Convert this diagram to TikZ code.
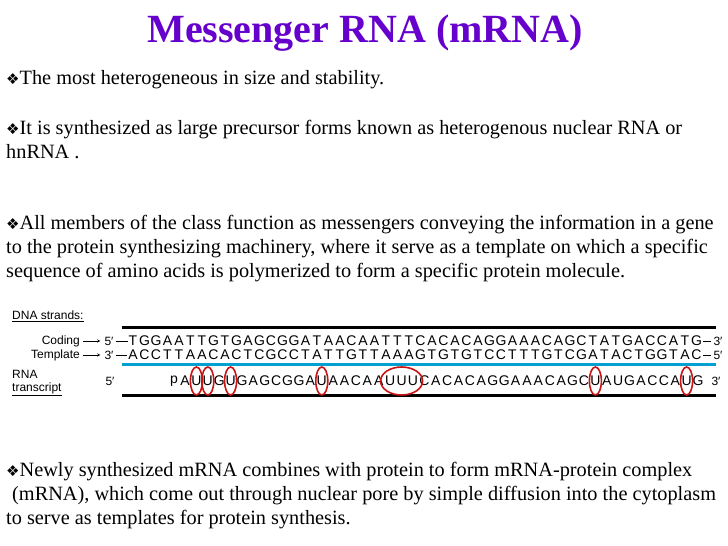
\documentclass[tikz,border=0pt]{standalone}
\usepackage{fontspec}
\setmainfont{Liberation Serif}
\newfontfamily\strandfont{Liberation Sans}
\newfontfamily\bulletfont{DejaVu Sans}
\usetikzlibrary{positioning}
\usetikzlibrary{shapes.geometric}
\definecolor{titlepurple}{RGB}{102,0,204}
\definecolor{templateblue}{RGB}{0,160,210}
\definecolor{ringred}{RGB}{200,20,20}
\newcommand{\bul}{{\bulletfont\fontsize{15}{15}\selectfont ❖}}
\tikzstyle{bodyline}=[anchor=base west, inner sep=0pt, font=\fontsize{20.3}{22}\selectfont]
\tikzstyle{base}=[inner sep=0pt, font=\strandfont\fontsize{14}{14}\selectfont]
\tikzstyle{small}=[inner sep=0pt, font=\strandfont\fontsize{12}{12}\selectfont]
\tikzstyle{bar}=[line width=3pt]
\tikzstyle{ring}=[draw=ringred, line width=1.6pt, ellipse]

\begin{document}
\begin{tikzpicture}[x=1pt, y=-1pt]
  \useasboundingbox[fill=white] (0,0) rectangle (728,546);

  % title
  \node[inner sep=0pt, text=titlepurple, font=\bfseries\fontsize{40}{44}\selectfont] (title) at (365,33) {Messenger RNA (mRNA)};

  % text above the figure
  \node[bodyline] (l1) at (6,84) {\bul The most heterogeneous in size and stability.};
  \node[bodyline] (l2) at (6,134) {\bul It is synthesized as large precursor forms known as heterogenous nuclear RNA or};
  \node[bodyline] (l3) at (6,158) {hnRNA .};
  \node[bodyline] (l4) at (6,229) {\bul All members of the class function as messengers conveying the information in a gene};
  \node[bodyline] (l5) at (6,253) {to the protein synthesizing machinery, where it serve as a template on which a specific};
  \node[bodyline] (l6) at (6,277) {sequence of amino acids is polymerized to form a specific protein molecule.};

  % strands
  \node[small, anchor=west] (dna) at (12,316) {\underline{DNA strands:}};
  \draw[bar] (122,327) -- (716,327);
  \draw[bar, templateblue] (122,364) -- (716,364);
  \draw[bar] (122,395) -- (716,395);

  \foreach \b [count=\i] in {T,G,G,A,A,T,T,G,T,G,A,G,C,G,G,A,T,A,A,C,A,A,T,T,T,C,A,C,A,C,A,G,G,A,A,A,C,A,G,C,T,A,T,G,A,C,C,A,T,G}
    \node[base] (c\i) at ({133+(\i-1)*11.5},341) {\b};
  \foreach \b [count=\i] in {A,C,C,T,T,A,A,C,A,C,T,C,G,C,C,T,A,T,T,G,T,T,A,A,A,G,T,G,T,G,T,C,C,T,T,T,G,T,C,G,A,T,A,C,T,G,G,T,A,C}
    \node[base] (t\i) at ({133+(\i-1)*11.5},355) {\b};

  \node[small, anchor=east] (coding) at (80,341) {Coding};
  \node[small, anchor=east] (template) at (80,355) {Template};
  \node[small] (cfive) at (109,341) {5′};
  \node[small] (tthree) at (109,355) {3′};
  \draw[->, >=stealth, shorten <=3pt, shorten >=4pt] (coding) -- (cfive);
  \draw[->, >=stealth, shorten <=3pt, shorten >=4pt] (template) -- (tthree);
  \draw[shorten <=2pt, shorten >=1pt] (cfive) -- (c1);
  \draw[shorten <=2pt, shorten >=1pt] (tthree) -- (t1);
  \node[small] (cthree) at (718,341) {3′};
  \node[small] (tfive) at (718,355) {5′};
  \draw[shorten <=1pt, shorten >=2pt] (c50) -- (cthree);
  \draw[shorten <=1pt, shorten >=2pt] (t50) -- (tfive);

  \node[small, anchor=west] (rna) at (12,374) {RNA};
  \node[small, anchor=west] (transcript) at (12,389) {\underline{transcript}};
  \node[small] (rfive) at (110,381) {5′};
  \node[base] (rp) at (174,381) {p};
  \foreach \b [count=\i] in {A,U,U,G,U,G,A,G,C,G,G,A,U,A,A,C,A,A,U,U,U,C,A,C,A,C,A,G,G,A,A,A,C,A,G,C,U,A,U,G,A,C,C,A,U,G}
    \node[base] (r\i) at ({185+(\i-1)*11.4},381) {\b};
  \node[small] (rthree) at (716,381) {3′};

  % rings around the uracils
  \foreach \u in {2,3,5,13,37,45}
    \node[ring, minimum width=12pt, minimum height=28pt] at (r\u) {};
  \node[ring, minimum width=42pt, minimum height=28pt] at (r20) {};

  % text below the figure
  \node[bodyline] (m1) at (6,476) {\bul Newly synthesized mRNA combines with protein to form mRNA-protein complex};
  \node[bodyline] (m2) at (12,500) {(mRNA), which come out through nuclear pore by simple diffusion into the cytoplasm};
  \node[bodyline] (m3) at (6,524) {to serve as templates for protein synthesis.};
\end{tikzpicture}
\end{document}
